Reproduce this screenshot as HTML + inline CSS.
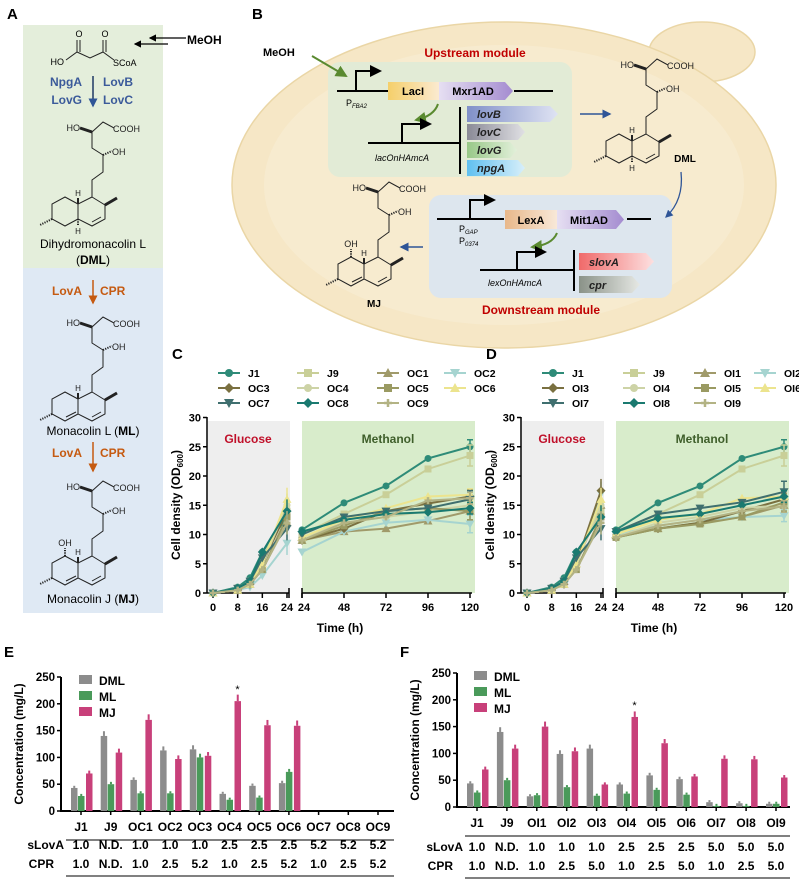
<!DOCTYPE html>
<html><head><meta charset="utf-8"><style>
html,body{margin:0;padding:0;background:#fff;}
svg{display:block;font-family:"Liberation Sans",Arial,sans-serif;}
.b{font-weight:bold;}
</style></head><body>
<svg id="s" width="799" height="880" viewBox="0 0 799 880" xmlns="http://www.w3.org/2000/svg">
<defs>
<g id="chain" fill="none" stroke="#222" stroke-width="1">
<path d="M92 132 L103 122 L114 128 M92 132 L92 148 L103 155 M103 155 L103 172 L92 180 L92 197 M92 197 L105 205 L105 219 L92 226 L78 219 L78 204 Z M101 217 L92 222 M78 204 L65 197 L52 204 L52 219 L65 226 L78 219"/>
<path d="M80 128 L92 132" stroke-width="3"/>
<path d="M103 155 L112 151" stroke-dasharray="1.2 1.2" stroke-width="2"/>
<path d="M105 205 L117 198" stroke-width="3"/>
<path d="M52 219 L40 225" stroke-dasharray="1.2 1.2" stroke-width="2"/>
<path d="M78 204 L78 198" stroke-width="2"/>
<text x="80" y="131" font-size="9" text-anchor="end" fill="#222" stroke="none">HO</text>
<text x="113" y="132" font-size="9" fill="#222" stroke="none">COOH</text>
<text x="112" y="155" font-size="9" fill="#222" stroke="none">OH</text>
<text x="78" y="196" font-size="8" text-anchor="middle" fill="#222" stroke="none">H</text>
</g>
<g id="dml"><use href="#chain"/><path d="M78 219 L78 226" stroke="#222" stroke-dasharray="1.2 1.2" stroke-width="2"/><text x="78" y="234" font-size="8" text-anchor="middle" fill="#222">H</text></g>
<g id="ml"><use href="#chain"/><path d="M66 222 L76 217" stroke="#222" stroke-width="1"/></g>
<g id="mj"><use href="#ml"/><path d="M65 197 L65 189" stroke="#222" stroke-dasharray="1.2 1.2" stroke-width="2"/><text x="65" y="187" font-size="9" text-anchor="middle" fill="#222">OH</text></g>
<marker id="ah" markerWidth="6" markerHeight="6" refX="5" refY="3" orient="auto"><path d="M0 0 L6 3 L0 6 Z" fill="#000"/></marker>
<marker id="ahb" markerWidth="6" markerHeight="6" refX="5" refY="3" orient="auto"><path d="M0 0 L6 3 L0 6 Z" fill="#2f5597"/></marker>
<marker id="ahg" markerWidth="6" markerHeight="6" refX="5" refY="3" orient="auto"><path d="M0 0 L6 3 L0 6 Z" fill="#5a8a30"/></marker>
<marker id="aho" markerWidth="6" markerHeight="6" refX="5" refY="3" orient="auto"><path d="M0 0 L6 3 L0 6 Z" fill="#c55a11"/></marker>
<linearGradient id="gB" x1="0" x2="1"><stop offset="0" stop-color="#8090c8"/><stop offset="1" stop-color="#dfe3f3"/></linearGradient>
<linearGradient id="gC" x1="0" x2="1"><stop offset="0" stop-color="#8a8a96"/><stop offset="1" stop-color="#e0e0e4"/></linearGradient>
<linearGradient id="gG" x1="0" x2="1"><stop offset="0" stop-color="#98c888"/><stop offset="1" stop-color="#e2f0da"/></linearGradient>
<linearGradient id="gN" x1="0" x2="1"><stop offset="0" stop-color="#60c0f0"/><stop offset="1" stop-color="#d8effa"/></linearGradient>
<linearGradient id="gS" x1="0" x2="1"><stop offset="0" stop-color="#f06a6a"/><stop offset="1" stop-color="#fde0e0"/></linearGradient>
<linearGradient id="gP" x1="0" x2="1"><stop offset="0" stop-color="#8a9288"/><stop offset="1" stop-color="#e6e8e4"/></linearGradient>
<linearGradient id="gL" x1="0" x2="1"><stop offset="0" stop-color="#f5cf6a"/><stop offset="1" stop-color="#fbead0"/></linearGradient>
<linearGradient id="gM" x1="0" x2="1"><stop offset="0" stop-color="#e6dff2"/><stop offset="1" stop-color="#a48cd0"/></linearGradient>
<linearGradient id="gX" x1="0" x2="1"><stop offset="0" stop-color="#e8b88a"/><stop offset="1" stop-color="#f8e8d8"/></linearGradient>
</defs>

<!-- Panel A -->
<text x="7" y="19" font-size="15" class="b">A</text>
<rect x="23" y="25" width="140" height="243" fill="#e4eedb"/>
<rect x="23" y="268" width="140" height="345" fill="#dfe9f4"/>
<g fill="none" stroke="#222" stroke-width="1">
<path d="M66 60 L77 52 L90 58 L103 52 L114 60 M77 52 L77 40 M80 52 L80 40 M103 52 L103 40 M106 52 L106 40"/>
</g>
<text x="79" y="37" font-size="9" text-anchor="middle">O</text>
<text x="105" y="37" font-size="9" text-anchor="middle">O</text>
<text x="64" y="65" font-size="9" text-anchor="end">HO</text>
<text x="113" y="66" font-size="9">SCoA</text>
<path d="M186 38 L150 38" stroke="#000" stroke-width="1.2" marker-end="url(#ah)"/>
<path d="M168 44 L135 44" stroke="#000" stroke-width="1.2" marker-end="url(#ah)"/>
<text x="187" y="44" font-size="12" class="b">MeOH</text>
<g font-size="12" class="b" fill="#3b5a9a">
<text x="82" y="86" text-anchor="end">NpgA</text><text x="103" y="86">LovB</text>
<text x="82" y="104" text-anchor="end">LovG</text><text x="103" y="104">LovC</text>
</g>
<path d="M93 76 L93 106" stroke="#1f3864" stroke-width="1.5" marker-end="url(#ahb)"/>
<use href="#dml"/>
<text x="93" y="248" font-size="12" text-anchor="middle">Dihydromonacolin L</text>
<text x="93" y="264" font-size="12" text-anchor="middle">(<tspan class="b">DML</tspan>)</text>
<g font-size="12" class="b" fill="#c55a11">
<text x="82" y="295" text-anchor="end">LovA</text><text x="100" y="295">CPR</text>
<text x="82" y="457" text-anchor="end">LovA</text><text x="100" y="457">CPR</text>
</g>
<path d="M93 280 L93 303" stroke="#c55a11" stroke-width="1.5" marker-end="url(#aho)"/>
<path d="M93 442 L93 471" stroke="#c55a11" stroke-width="1.5" marker-end="url(#aho)"/>
<use href="#ml" transform="translate(0,195)"/>
<text x="93" y="435" font-size="12" text-anchor="middle">Monacolin L (<tspan class="b">ML</tspan>)</text>
<use href="#mj" transform="translate(0,359)"/>
<text x="93" y="603" font-size="12" text-anchor="middle">Monacolin J (<tspan class="b">MJ</tspan>)</text>

<!-- Panel B -->
<text x="252" y="19" font-size="15" class="b">B</text>
<ellipse cx="702" cy="52" rx="53" ry="30" fill="#f6e7c6" stroke="#ead6a6" stroke-width="1.5"/>
<ellipse cx="504" cy="185" rx="272" ry="163" fill="#f6e7c6" stroke="#ead6a6" stroke-width="1.5"/>
<ellipse cx="504" cy="185" rx="240" ry="140" fill="#f9eed6" opacity="0.6"/>
<rect x="328" y="62" width="244" height="115" rx="12" fill="#e2ebd6"/>
<rect x="429" y="195" width="243" height="103" rx="12" fill="#dde6ee"/>
<text x="263" y="56" font-size="11" class="b">MeOH</text>
<path d="M312 56 L346 76" stroke="#5a8a30" stroke-width="2" marker-end="url(#ahg)"/>
<text x="475" y="57" font-size="12" text-anchor="middle" fill="#c00000" class="b">Upstream module</text>
<path d="M337 91 L388 91 M514 91 L553 91" stroke="#000" stroke-width="2"/>
<path d="M356 91 L356 71 L380 71" stroke="#000" stroke-width="2" fill="none" marker-end="url(#ah)"/>
<rect x="388" y="82" width="51" height="18" fill="url(#gL)"/>
<text x="413" y="95" font-size="11" text-anchor="middle" class="b">LacI</text>
<path d="M439 82 L505 82 L513 91 L505 100 L439 100 Z" fill="url(#gM)"/>
<text x="473" y="95" font-size="11" text-anchor="middle" class="b">Mxr1AD</text>
<text x="346" y="106" font-size="9">P<tspan font-size="6" font-style="italic" dy="2">FBA2</tspan></text>
<path d="M438 104 Q434 116 416 120" stroke="#5a8a30" stroke-width="2" fill="none" marker-end="url(#ahg)"/>
<path d="M368 143 L460 143" stroke="#000" stroke-width="2"/>
<path d="M402 143 L402 124 L430 124" stroke="#000" stroke-width="2" fill="none" marker-end="url(#ah)"/>
<path d="M460 107 L460 174" stroke="#000" stroke-width="2"/>
<path d="M467 106 L550 106 L558 114 L550 122 L467 122 Z" fill="url(#gB)"/>
<path d="M467 124 L518 124 L525 132 L518 140 L467 140 Z" fill="url(#gC)"/>
<path d="M467 142 L510 142 L517 150 L510 158 L467 158 Z" fill="url(#gG)"/>
<path d="M467 160 L518 160 L525 168 L518 176 L467 176 Z" fill="url(#gN)"/>
<g font-size="11" class="b" font-style="italic" fill="#222">
<text x="477" y="118">lovB</text><text x="477" y="136">lovC</text><text x="477" y="154">lovG</text><text x="477" y="172">npgA</text>
</g>
<text x="402" y="161" font-size="9" font-style="italic" text-anchor="middle">lacOnHAmcA</text>
<path d="M580 114 L610 114" stroke="#2f5597" stroke-width="1.5" marker-end="url(#ahb)"/>
<use href="#dml" transform="translate(554,-63)"/>
<text x="685" y="162" font-size="10" class="b" text-anchor="middle">DML</text>
<path d="M681 172 Q684 200 666 217" stroke="#2f5597" stroke-width="1.3" fill="none" marker-end="url(#ahb)"/>
<path d="M437 219 L504 219 M627 219 L651 219" stroke="#000" stroke-width="2"/>
<path d="M470 219 L470 200 L494 200" stroke="#000" stroke-width="2" fill="none" marker-end="url(#ah)"/>
<rect x="505" y="210" width="52" height="19" fill="url(#gX)"/>
<text x="531" y="224" font-size="11" text-anchor="middle" class="b">LexA</text>
<path d="M557 210 L616 210 L624 219.5 L616 229 L557 229 Z" fill="url(#gM)"/>
<text x="589" y="224" font-size="11" text-anchor="middle" class="b">Mit1AD</text>
<text x="459" y="232" font-size="9">P<tspan font-size="6" font-style="italic" dy="2">GAP</tspan></text>
<text x="459" y="244" font-size="9">P<tspan font-size="6" font-style="italic" dy="2">0374</tspan></text>
<path d="M557 233 Q552 245 532 247" stroke="#5a8a30" stroke-width="2" fill="none" marker-end="url(#ahg)"/>
<path d="M480 270 L574 270" stroke="#000" stroke-width="2"/>
<path d="M517 270 L517 252 L545 252" stroke="#000" stroke-width="2" fill="none" marker-end="url(#ah)"/>
<path d="M574 250 L574 291" stroke="#000" stroke-width="2"/>
<path d="M579 253 L646 253 L654 261.5 L646 270 L579 270 Z" fill="url(#gS)"/>
<path d="M579 276 L632 276 L640 284.5 L632 293 L579 293 Z" fill="url(#gP)"/>
<g font-size="11" class="b" font-style="italic" fill="#222"><text x="589" y="266">slovA</text><text x="589" y="289">cpr</text></g>
<text x="515" y="286" font-size="9" font-style="italic" text-anchor="middle">lexOnHAmcA</text>
<text x="541" y="314" font-size="12" text-anchor="middle" fill="#c00000" class="b">Downstream module</text>
<path d="M423 247 L401 247" stroke="#2f5597" stroke-width="1.5" marker-end="url(#ahb)"/>
<use href="#mj" transform="translate(286,60)"/>
<text x="374" y="307" font-size="10" class="b" text-anchor="middle">MJ</text>

<!-- Panels C/D static -->
<text x="172" y="359" font-size="15" class="b">C</text>
<text x="486" y="359" font-size="15" class="b">D</text>
<g id="chartsStatic"></g>

<!-- Panel E/F labels -->
<text x="4" y="657" font-size="15" class="b">E</text>
<text x="400" y="657" font-size="15" class="b">F</text>
</svg>
<script>
(function(){
var S=document.getElementById('s'),NS='http://www.w3.org/2000/svg';
function el(t,a,txt){var e=document.createElementNS(NS,t);for(var k in a)e.setAttribute(k,a[k]);if(txt!=null)e.textContent=txt;S.appendChild(e);return e;}
function marker(x,y,shape,c,sz){sz=sz||4;
 if(shape=='c')el('circle',{cx:x,cy:y,r:sz,fill:c});
 else if(shape=='s')el('rect',{x:x-sz,y:y-sz,width:2*sz,height:2*sz,fill:c});
 else if(shape=='t')el('path',{d:'M'+x+' '+(y-sz-1)+'L'+(x+sz+1)+' '+(y+sz)+'L'+(x-sz-1)+' '+(y+sz)+'Z',fill:c});
 else if(shape=='v')el('path',{d:'M'+x+' '+(y+sz+1)+'L'+(x+sz+1)+' '+(y-sz)+'L'+(x-sz-1)+' '+(y-sz)+'Z',fill:c});
 else if(shape=='d')el('path',{d:'M'+x+' '+(y-sz-1)+'L'+(x+sz+1)+' '+y+'L'+x+' '+(y+sz+1)+'L'+(x-sz-1)+' '+y+'Z',fill:c});
 else el('path',{d:'M'+(x-sz)+' '+y+'L'+(x+sz)+' '+y+'M'+x+' '+(y-sz)+'L'+x+' '+(y+sz),stroke:c,'stroke-width':2.5});
}
function chart(dx,names,legX,legT,data){
 var ax=207+dx, y0=593, ky=5.85;
 el('rect',{x:ax+1,y:421,width:82,height:172,fill:'#eeeeee'});
 el('rect',{x:302+dx,y:421,width:173,height:172,fill:'#d8eccb'});
 el('text',{x:248+dx,y:443,'font-size':12,'text-anchor':'middle',fill:'#c0102a','class':'b'},'Glucose');
 el('text',{x:388+dx,y:443,'font-size':12,'text-anchor':'middle',fill:'#3e5e2a','class':'b'},'Methanol');
 el('path',{d:'M'+ax+' 417 L'+ax+' '+y0,stroke:'#000','stroke-width':1.5});
 for(var v=0;v<=30;v+=5){var y=y0-v*ky;el('path',{d:'M'+(ax-4)+' '+y+'L'+ax+' '+y,stroke:'#000','stroke-width':1.5});
  el('text',{x:ax-6,y:y+4,'font-size':11,'text-anchor':'end','class':'b'},String(v));}
 el('path',{d:'M'+ax+' '+y0+'L'+(289+dx)+' '+y0+'M'+(302+dx)+' '+y0+'L'+(472+dx)+' '+y0,stroke:'#000','stroke-width':1.5});
 var gt=[0,8,16,24],mt=[24,48,72,96,120];
 gt.forEach(function(t){var x=213+dx+3.083*t;el('path',{d:'M'+x+' '+y0+'L'+x+' '+(y0+5),stroke:'#000','stroke-width':1.5});el('text',{x:x,y:611,'font-size':11,'text-anchor':'middle','class':'b'},String(t));});
 mt.forEach(function(t){var x=302+dx+1.75*(t-24);el('path',{d:'M'+x+' '+y0+'L'+x+' '+(y0+5),stroke:'#000','stroke-width':1.5});el('text',{x:x+(t==24?2:0),y:611,'font-size':11,'text-anchor':'middle','class':'b'},String(t));});
 el('path',{d:'M'+(289+dx)+' '+(y0-5)+'L'+(289+dx)+' '+(y0+5)+'M'+(302+dx)+' '+(y0-5)+'L'+(302+dx)+' '+(y0+5),stroke:'#000','stroke-width':1.5});
 el('text',{x:340+dx,y:632,'font-size':12,'text-anchor':'middle','class':'b'},'Time (h)');
 var t=el('text',{x:0,y:0,'font-size':12,'text-anchor':'middle','class':'b',transform:'translate('+(180+dx)+',505) rotate(-90)'},'Cell density (OD');
 var ts=document.createElementNS(NS,'tspan');ts.setAttribute('font-size','8');ts.setAttribute('dy','3');ts.textContent='600';t.appendChild(ts);
 var ts2=document.createElementNS(NS,'tspan');ts2.setAttribute('dy','-3');ts2.textContent=')';t.appendChild(ts2);
 // series
 var gx=[0,8,12,16,24].map(function(t){return 213+dx+3.083*t;});
 var mx=mt.map(function(t){return 302+dx+1.75*(t-24);});
 data.forEach(function(s,i){
  var g=s[3],m=s[4];
  var p='';g.forEach(function(v,j){p+=(j?'L':'M')+gx[j]+' '+(y0-v*ky);});
  el('path',{d:p,stroke:s[1],'stroke-width':2,fill:'none'});
  p='';m.forEach(function(v,j){p+=(j?'L':'M')+mx[j]+' '+(y0-v*ky);});
  el('path',{d:p,stroke:s[1],'stroke-width':2,fill:'none'});
  var ey=y0-m[4]*ky,er=s[5]||1;
  el('path',{d:'M'+mx[4]+' '+(ey-er*ky)+'L'+mx[4]+' '+(ey+er*ky)+'M'+(mx[4]-3)+' '+(ey-er*ky)+'L'+(mx[4]+3)+' '+(ey-er*ky)+'M'+(mx[4]-3)+' '+(ey+er*ky)+'L'+(mx[4]+3)+' '+(ey+er*ky),stroke:s[1],'stroke-width':1.5});
  ey=y0-g[4]*ky;
  el('path',{d:'M'+gx[4]+' '+(ey-2*ky)+'L'+gx[4]+' '+(ey+2*ky),stroke:s[1],'stroke-width':1.5});
  g.forEach(function(v,j){marker(gx[j],y0-v*ky,s[2],s[1],3.5);});
  m.forEach(function(v,j){marker(mx[j],y0-v*ky,s[2],s[1],3.5);});
 });
 // legend
 var rows=[373,388,403];
 data.forEach(function(s,i){
  var pos=legT[i];var mxp=legX[pos[0]],ry=rows[pos[1]];
  el('path',{d:'M'+(mxp-11)+' '+ry+'L'+(mxp+11)+' '+ry,stroke:s[1],'stroke-width':2});
  marker(mxp,ry,s[2],s[1],4);
  el('text',{x:mxp+19,y:ry+4,'font-size':10.5,'class':'b'},s[0]);
 });
}
var C=[
 ['J1','#2e8b78','c',[0,1,2.6,7,13],[10.8,15.4,18.3,23,25],1.2],
 ['J9','#c9cf98','s',[0,0.8,2,6,14],[10,13.5,16.8,21.2,23.5],1.8],
 ['OC1','#a09a6a','t',[0,0.5,1.5,4,12],[9,10.5,11,12.3,14],1.5],
 ['OC2','#a6d4d0','v',[0,0.5,1,3,8.5],[7,10.5,12,12.5,11.8],1.5],
 ['OC3','#7a7040','d',[0,0.5,1.5,5,14],[9,11,14,15.3,16.5],1.2],
 ['OC4','#cdd3a6','c',[0,0.5,1.5,5,15],[9.5,12,13,14,15],1],
 ['OC5','#9a9a62','s',[0,0.5,1.5,4,13],[9,11.5,14,14.5,14],1.5],
 ['OC6','#ece48e','t',[0,0.5,1.5,5,16],[9.5,12.5,14.5,16.5,16.8],1],
 ['OC7','#3f6f6f','v',[0,0.8,2,6,11],[10,13,14,14.5,16],1.5],
 ['OC8','#1a7a70','d',[0,0.8,2,7,14],[10.5,12.5,13.5,13.8,14.5],1],
 ['OC9','#b3b384','p',[0,0.5,1.5,4,12],[9,12,13,15.8,16.2],1]
];
var legTC=[[0,0],[1,0],[2,0],[3,0],[0,1],[1,1],[2,1],[3,1],[0,2],[1,2],[2,2]];
chart(0,null,[229,308,388,455],legTC,C);
var D=[
 ['J1','#2e8b78','c',[0,1,2.6,7,13],[10.8,15.4,18.3,23,25],1.2],
 ['J9','#c9cf98','s',[0,0.8,2,6,14],[10,13.5,16.8,21.2,23.5],1.8],
 ['OI1','#a09a6a','t',[0,0.5,1.5,5,15],[9.8,11,12,13,15],1.2],
 ['OI2','#a6d4d0','v',[0,0.5,1.5,5,17],[10,11.5,12.5,13,13.2],1],
 ['OI3','#7a7040','d',[0,0.5,1.5,5,17.5],[9.5,11,12,14,16],1],
 ['OI4','#cdd3a6','c',[0,0.5,1.5,5,15],[9.5,12,13,14.5,15],1],
 ['OI5','#9a9a62','s',[0,0.5,1.5,4,13],[9.5,11,11.8,13,15.5],1.5],
 ['OI6','#ece48e','t',[0,0.5,1.5,5,16],[10,12.5,13.5,16.2,16.5],1],
 ['OI7','#3f6f6f','v',[0,0.8,2,6,11],[10.5,13.5,14.5,15.5,17.3],1.8],
 ['OI8','#1a7a70','d',[0,0.8,2,7,13],[10.5,12.8,13.5,15,16.5],1],
 ['OI9','#b3b384','p',[0,0.5,1.5,4,12],[9.5,11.5,12.5,14,14.8],1]
];
chart(314,null,[553,634,705,765],legTC,D);

function bars(ax,y0,top,xEnd,cx0,step,cats,vals,sl,cp,legX,legY,rowY,lineX0,starIdx){
 var k=(y0-top)/250;
 el('path',{d:'M'+ax+' '+top+'L'+ax+' '+y0+'L'+xEnd+' '+y0,stroke:'#000','stroke-width':2,fill:'none'});
 for(var v=0;v<=250;v+=50){var y=y0-v*k;el('path',{d:'M'+(ax-4)+' '+y+'L'+ax+' '+y,stroke:'#000','stroke-width':1.5});
  el('text',{x:ax-6,y:y+4,'font-size':11.5,'text-anchor':'end','class':'b'},String(v));}
 var cols=['#8c8c8c','#4a9a5a','#c8407a'],offs=[-10,-3,5];
 cats.forEach(function(c,i){var cx=cx0+i*step;
  el('path',{d:'M'+cx+' '+y0+'L'+cx+' '+(y0+4),stroke:'#000','stroke-width':1.5});
  vals[i].forEach(function(v,j){if(v<=0)return;var h=v*k,x=cx+offs[j];
   var e=Math.max(2,v*0.05);
   el('path',{d:'M'+(x+3.25)+' '+(y0-h)+'L'+(x+3.25)+' '+(y0-h-e*k*1.0-1),stroke:cols[j],'stroke-width':2});
   el('rect',{x:x,y:y0-h,width:6.5,height:h,fill:cols[j]});});
  el('text',{x:cx,y:rowY[0],'font-size':12,'text-anchor':'middle','class':'b'},c);
  el('text',{x:cx,y:rowY[1],'font-size':12,'text-anchor':'middle','class':'b'},sl[i]);
  el('text',{x:cx,y:rowY[2],'font-size':12,'text-anchor':'middle','class':'b'},cp[i]);
 });
 var sx=cx0+starIdx*step+8;
 el('text',{x:sx,y:y0-vals[starIdx][2]*k-8,'font-size':11,'text-anchor':'middle'},'*');
 el('path',{d:'M'+lineX0+' '+(rowY[0]+9)+'L'+xEnd+' '+(rowY[0]+9)+'M'+lineX0+' '+(rowY[2]+8)+'L'+xEnd+' '+(rowY[2]+8),stroke:'#000','stroke-width':1});
 el('text',{x:lineX0-2,y:rowY[1],'font-size':12,'text-anchor':'end','class':'b'},'sLovA');
 el('text',{x:lineX0-12,y:rowY[2],'font-size':12,'text-anchor':'end','class':'b'},'CPR');
 ['DML','ML','MJ'].forEach(function(n,j){var y=legY+j*16;
  el('rect',{x:legX,y:y-6,width:13,height:9,fill:cols[j]});
  el('text',{x:legX+20,y:y+4,'font-size':12,'class':'b'},n);});
 var t=el('text',{x:0,y:0,'font-size':12,'text-anchor':'middle','class':'b',transform:'translate('+(ax-38)+','+((y0+top)/2)+') rotate(-90)'},'Concentration (mg/L)');
}
bars(61,811,677,394,81,29.7,['J1','J9','OC1','OC2','OC3','OC4','OC5','OC6','OC7','OC8','OC9'],
 [[43,28,70],[140,50,109],[58,33,170],[113,33,97],[115,100,103],[32,21,205],[47,25,160],[52,73,159],[0,0,0],[0,0,0],[0,0,0]],
 ['1.0','N.D.','1.0','1.0','1.0','2.5','2.5','2.5','5.2','5.2','5.2'],
 ['1.0','N.D.','1.0','2.5','5.2','1.0','2.5','5.2','1.0','2.5','5.2'],
 79,681,[831,849,868],66,5);
bars(457,807,673,790,477,29.9,['J1','J9','OI1','OI2','OI3','OI4','OI5','OI6','OI7','OI8','OI9'],
 [[44,27,70],[140,50,109],[20,22,150],[99,37,104],[109,21,42],[42,25,168],[59,32,119],[52,23,57],[9,2,90],[7,2,89],[6,6,55]],
 ['1.0','N.D.','1.0','1.0','1.0','2.5','2.5','2.5','5.0','5.0','5.0'],
 ['1.0','N.D.','1.0','2.5','5.0','1.0','2.5','5.0','1.0','2.5','5.0'],
 474,677,[827,851,870],465,5);
})();
</script>
</body></html>
